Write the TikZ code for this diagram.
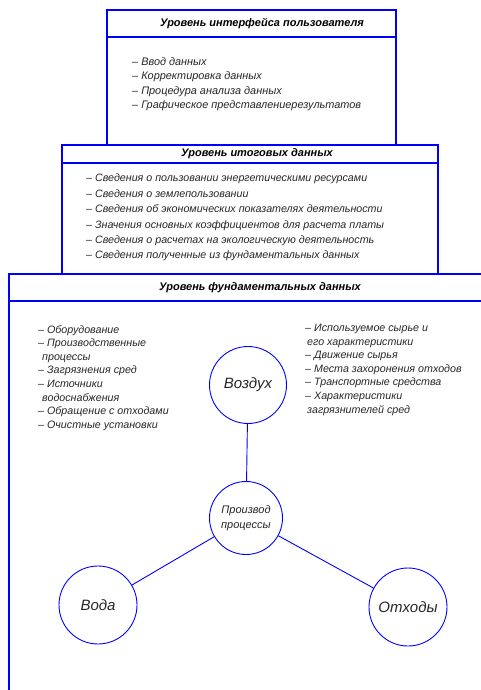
\documentclass[tikz,border=0pt]{standalone}
\usepackage{fontspec}
\setmainfont{Liberation Sans}

\begin{document}
\begin{tikzpicture}[x=1pt,y=-1pt,
  level/.style={draw=blue, line width=1.3pt},
  title/.style={font=\fontsize{11}{13}\selectfont\bfseries\itshape},
  items/.style={anchor=north west, align=left, inner sep=0pt, text=black!85},
  source/.style={circle, draw=blue, line width=0.9pt, inner sep=0pt, minimum size=77pt, text=black!85, font=\fontsize{15}{17}\selectfont\itshape},
  link/.style={draw=blue, line width=0.9pt}]
\useasboundingbox (0,0) rectangle (480,690);

% the three levels, the lowest one runs off the page
\draw[level] (107,10) rectangle (396,145);
\draw[level] (107,37) -- (396,37);
\draw[level] (62,145) rectangle (438,274);
\draw[level] (62,163) -- (438,163);
\draw[level] (9,274) rectangle (500,710);
\draw[level] (9,301) -- (500,301);

\node[title] (ui) at (262,24) {Уровень интерфейса пользователя};
\node[title] (total) at (257,154) {Уровень итоговых данных};
\node[title] (base) at (260,288) {Уровень фундаментальных данных};

\node[items, font=\fontsize{10.9}{14.5}\selectfont\itshape] (uilist) at (132,57) {%
  -- Ввод данных\\
  -- Корректировка данных\\
  -- Процедура анализа данных\\
  -- Графическое представлениерезультатов};
\node[items, font=\fontsize{10.7}{15.4}\selectfont\itshape] (totallist) at (86,174) {%
  -- Сведения о пользовании энергетическими ресурсами\\
  -- Сведения о землепользовании\\
  -- Сведения об экономических показателях деятельности\\
  -- Значения основных коэффициентов для расчета платы\\
  -- Сведения о расчетах на экологическую деятельность\\
  -- Сведения полученные из фундаментальных данных};
\node[items, font=\fontsize{10.7}{13.6}\selectfont\itshape] (leftlist) at (38,325) {%
  -- Оборудование\\
  -- Производственные\\
  \hspace*{4pt}процессы\\
  -- Загрязнения сред\\
  -- Источники\\
  \hspace*{4pt}водоснабжения\\
  -- Обращение с отходами\\
  -- Очистные установки};
\node[items, font=\fontsize{10.7}{13.6}\selectfont\itshape] (rightlist) at (305,324) {%
  -- Используемое сырье и\\
  \hspace*{2pt}его характеристики\\
  -- Движение сырья\\
  -- Места захоронения отходов\\
  -- Транспортные средства\\
  -- Характеристики\\
  \hspace*{2pt}загрязнителей сред};

% sources around production
\node[source] (vozduh) at (248,385) {Воздух};
\node[source, minimum size=73pt, align=center, font=\fontsize{11}{15}\selectfont\itshape] (proizvod) at (246,518) {Производ\\процессы};
\node[source, minimum size=78pt] (voda) at (98,605) {Вода};
\node[source, minimum size=78pt] (othody) at (408,607) {Отходы};

\draw[link] (vozduh) -- (proizvod);
\draw[link] (proizvod) -- (voda);
\draw[link] (proizvod) -- (othody);

\end{tikzpicture}
\end{document}
